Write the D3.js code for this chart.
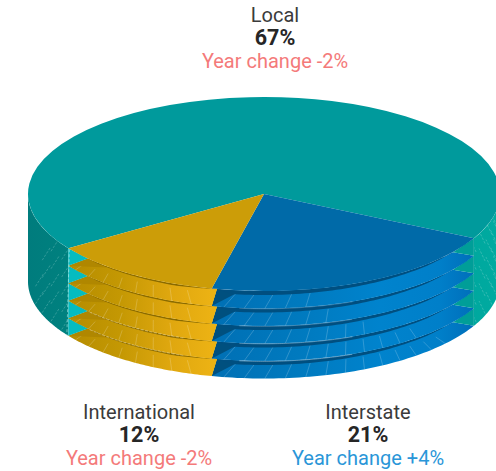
<!DOCTYPE html>
<html>
<head>
<meta charset="utf-8">
<script src="https://cdn.jsdelivr.net/npm/d3@7"></script>
<style>
  html, body { margin: 0; padding: 0; background: #fff; }
  svg { display: block; overflow: hidden; }
  text { font-family: "Roboto", sans-serif; text-anchor: middle; }
</style>
</head>
<body>
<script>
// Share of trips by market, with the change on the previous year
const categories = ["Local", "Interstate", "International"];
const shares = [67, 21, 12];
const yearChanges = [-2, 4, -2];
const labelCentres = [[275, 22], [368, 419], [139, 419]];

const width = 496, height = 471;
const cx = 264, cy = 194, rx = 236, ry = 97;
const layers = d3.range(1, 6);
const layerDepth = 17.5;
const inset = 0.9;
const rad = d => d * Math.PI / 180;
const deg = r => r * 180 / Math.PI;

const svg = d3.select("body").append("svg").attr("width", width).attr("height", height);
const defs = svg.append("defs");

// Paint for each slice: top face, ridge ramp, under-rim shadow, end facets
const styles = {
  Local: { top: "#009a9c", face: "#05bcc0", faceRight: "#009e98" },
  Interstate: {
    top: "#006aa8", band: "#004f80", notch: "#00507f", notchSpan: 6, bandMax: 4, lean: 8.6,
    glint: "#cfe6f5", face: "#ecb212",
    ramp: [[215, "#0070b5"], [300, "#007abf"], [380, "#0083cd"], [440, "#007fc9"], [472, "#006fbb"]]
  },
  International: {
    top: "#cc9d08", band: "#8a6b00", notch: "#b08700", notchSpan: 8, bandMax: 2, lean: -11,
    glint: "#fbeec6",
    ramp: [[68, "#b58c00"], [120, "#c49803"], [170, "#dfa70f"], [215, "#edb314"]]
  }
};

// How far round each layer the fine ribs reach on the blue slice
const ribReach = [167, 160, 150, 135, 125];

const pie = d3.pie().sort(null).startAngle(rad(236)).endAngle(rad(596));
const slices = pie(shares).map((s, i) => ({
  name: categories[i],
  style: styles[categories[i]],
  from: deg(s.startAngle),
  to: deg(s.endAngle),
  arc: s
}));
const local = slices[0], interstate = slices[1], international = slices[2];
const edgeRight = interstate.from - 360;   // local / interstate
const edgeFront = interstate.to - 360;     // interstate / international
const edgeLeft = international.to - 360;   // international / local

const rim = (t, z) => [cx + rx * Math.sin(rad(t)), cy - ry * Math.cos(rad(t)) + z];
const recess = (t, z, extra = 0) => {
  const s = inset * Math.sin(rad(t));
  return [cx + rx * s, cy + ry * Math.sqrt(1 - s * s) + z + extra];
};
const sweep = (a, b, n = 60) => d3.range(n + 1).map(i => a + (b - a) * i / n);
const line = d3.line();

function ramp(id, stops) {
  const g = defs.append("linearGradient").attr("id", id)
    .attr("gradientUnits", "userSpaceOnUse")
    .attr("x1", stops[0][0]).attr("x2", stops[stops.length - 1][0])
    .attr("y1", 0).attr("y2", 0);
  const span = stops[stops.length - 1][0] - stops[0][0];
  stops.forEach(([x, c]) => g.append("stop")
    .attr("offset", (x - stops[0][0]) / span).attr("stop-color", c));
}
ramp("ramp-Interstate", interstate.style.ramp);
ramp("ramp-International", international.style.ramp);
ramp("wall-left", [[28, "#007c7d"], [68, "#00817f"]]);
ramp("wall-right", [[450, "#00a69d"], [496, "#00aaa0"]]);

const chart = svg.append("g");

// Outer wall of the big slice, either side of the stepped front
function wall(a, b, fill) {
  const upper = sweep(a, b).map(t => rim(t, 0));
  const lower = sweep(b, a).map(t => rim(t, layerDepth * layers.length));
  chart.append("path").attr("d", line(upper.concat(lower)) + "Z").attr("fill", fill);
}
wall(edgeRight, 90, "url(#wall-right)");
wall(edgeLeft, 270, "url(#wall-left)");

// Short ribs scored into the wall, row by row
function wallRibs(from, to, step, lean, reachOf) {
  layers.forEach(k => {
    const z1 = k * layerDepth, z0 = z1 - layerDepth;
    d3.range(from, to, step).forEach(t => {
      if (!reachOf(t, k)) return;
      const [x, y] = rim(t, z1 - 2);
      const [, yTop] = rim(t, z0 + 3);
      chart.append("line")
        .attr("x1", x).attr("y1", y).attr("x2", x + lean).attr("y2", yTop)
        .attr("stroke", "#bfe8e6").attr("stroke-width", 0.7)
        .attr("stroke-opacity", 0.38).attr("stroke-dasharray", "2.5 1.5");
    });
  });
}
wallRibs(239, 270, 5.5, 8, (t, k) => t < 243 + k * 3.6);
wallRibs(94, 117, 5.5, -6, () => true);

// Stepped front: lowest ridge first so each upper rim overlaps the next
layers.slice().reverse().forEach(k => {
  const z1 = k * layerDepth, z0 = z1 - layerDepth;

  [[interstate, edgeRight, edgeFront], [international, edgeFront, edgeLeft]].forEach(([sl, near, far]) => {
    const st = sl.style;
    const isBlue = sl === interstate;

    // Ridge surface
    const outer = sweep(near, far).map(t => rim(t, z1));
    const inner = sweep(far, near).map(t => recess(t, z0));
    chart.append("path").attr("d", line(outer.concat(inner)) + "Z")
      .attr("fill", `url(#ramp-${sl.name})`);

    // Ribs running down the ridge
    const reach = isBlue ? ribReach[k - 1] : near + 2;
    d3.range(far - 3, reach, -5).forEach(t => {
      const [x, y] = rim(t, z1);
      const [xi, yi] = recess(t, z0, 3);
      chart.append("line")
        .attr("x1", x).attr("y1", y).attr("x2", xi + st.lean).attr("y2", yi)
        .attr("stroke", "#ffffff").attr("stroke-width", 0.7).attr("stroke-opacity", 0.28);
    });

    // Dark notch at the far end of the ridge
    chart.append("path")
      .attr("d", line([rim(far, z1), recess(far, z0), recess(far - st.notchSpan, z0, 1.5)]) + "Z")
      .attr("fill", st.notch);

    // Shadow under the rim of the layer above
    const thickness = t => {
      const front = Math.pow(Math.max(0, -Math.cos(rad(t))), 2);
      const ends = Math.min(1, (t - near) / 12, (far - t) / 4);
      return st.bandMax * front * ends;
    };
    const shadowTop = sweep(near, far).map(t => recess(t, z0));
    const shadowLow = sweep(far, near).map(t => recess(t, z0, thickness(t)));
    chart.append("path").attr("d", line(shadowTop.concat(shadowLow)) + "Z")
      .attr("fill", st.band);

    // Pale glint along the rim edge: faint on the blue, lower rows only on the gold
    if (k < layers.length && (isBlue || k >= 3)) {
      const [g0, g1] = isBlue ? [158, 186] : [200, 228];
      chart.append("path").attr("d", line(sweep(g0, g1).map(t => rim(t, z1 + 0.3))))
        .attr("fill", "none").attr("stroke", st.glint).attr("stroke-width", 0.8)
        .attr("stroke-opacity", isBlue ? 0.2 + k * 0.1 : 0.5)
        .attr("stroke-dasharray", isBlue ? null : "3 1.5");
    }
  });

  // Triangular end faces where the slices part
  [[edgeLeft, styles.Local.face], [edgeFront, styles.Interstate.face], [edgeRight, styles.Local.faceRight]]
    .forEach(([t, fill]) => {
      chart.append("path")
        .attr("d", line([rim(t, z0), recess(t, z0), rim(t, z1)]) + "Z")
        .attr("fill", fill);
    });
});

// Pale seam down the wall at the left edge of the front
chart.append("line")
  .attr("x1", rim(edgeLeft, 0)[0] + 1).attr("y1", rim(edgeLeft, 0)[1] + 1)
  .attr("x2", rim(edgeLeft, 0)[0] - 1.5).attr("y2", rim(edgeLeft, layerDepth * layers.length)[1])
  .attr("stroke", "#c8f2f0").attr("stroke-width", 0.9)
  .attr("stroke-opacity", 0.6).attr("stroke-dasharray", "3 2");

// Top face: a flat pie squashed into an ellipse
const arc = d3.arc().innerRadius(0).outerRadius(rx);
chart.append("g")
  .attr("transform", `translate(${cx},${cy}) scale(1,${ry / rx})`)
  .selectAll("path").data(slices).join("path")
  .attr("d", d => arc(d.arc))
  .attr("fill", d => d.style.top);

// Labels
const signed = v => (v > 0 ? "+" : "-") + Math.abs(v) + "%";
const labels = svg.append("g").selectAll("g").data(categories).join("g")
  .attr("transform", (d, i) => `translate(${labelCentres[i][0]},${labelCentres[i][1]})`);
labels.append("text").text(d => d)
  .attr("font-size", 20).attr("fill", "#3b3b3b");
labels.append("text").text((d, i) => shares[i] + "%")
  .attr("y", 23).attr("font-size", 21.5).attr("font-weight", 700).attr("fill", "#262626");
labels.append("text").text((d, i) => "Year change " + signed(yearChanges[i]))
  .attr("y", 46).attr("font-size", 20)
  .attr("fill", (d, i) => yearChanges[i] > 0 ? "#2a96d8" : "#f47a7a");
</script>
</body>
</html>
